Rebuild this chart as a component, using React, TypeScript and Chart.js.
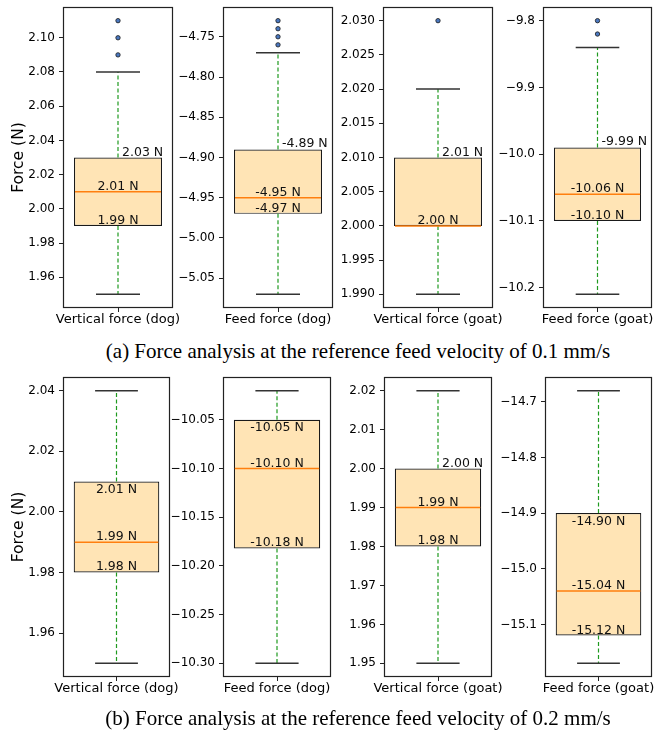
import React, { useEffect, useRef } from 'react';
import { Chart, registerables } from 'chart.js';

Chart.register(...registerables);

// ---------------- data ----------------
const categories = [
  'Vertical force (dog)',
  'Feed force (dog)',
  'Vertical force (goat)',
  'Feed force (goat)',
  'Vertical force (dog)',
  'Feed force (dog)',
  'Vertical force (goat)',
  'Feed force (goat)',
];
const lowerWhisker = [1.95, -5.07, 1.99, -10.21, 1.95, -10.3, 1.95, -15.17];
const q1Values = [1.99, -4.97, 2.0, -10.1, 1.98, -10.182, 1.98, -15.12];
const medianValues = [2.01, -4.95, 2.0, -10.06, 1.99, -10.1, 1.99, -15.04];
const q3Values = [2.03, -4.89, 2.01, -9.99, 2.01, -10.05, 2.0, -14.9];
const upperWhisker = [2.08, -4.77, 2.02, -9.84, 2.04, -10.02, 2.02, -14.68];
const outlierValues: number[][] = [
  [2.09, 2.1, 2.11],
  [-4.76, -4.75, -4.74, -4.73],
  [2.03],
  [-9.82, -9.8],
  [],
  [],
  [],
  [],
];
const tickValues: number[][] = [
  [1.96, 1.98, 2.0, 2.02, 2.04, 2.06, 2.08, 2.1],
  [-5.05, -5.0, -4.95, -4.9, -4.85, -4.8, -4.75],
  [1.99, 1.995, 2.0, 2.005, 2.01, 2.015, 2.02, 2.025, 2.03],
  [-10.2, -10.1, -10.0, -9.9, -9.8],
  [1.96, 1.98, 2.0, 2.02, 2.04],
  [-10.3, -10.25, -10.2, -10.15, -10.1, -10.05],
  [1.95, 1.96, 1.97, 1.98, 1.99, 2.0, 2.01, 2.02],
  [-15.1, -15.0, -14.9, -14.8, -14.7],
];
const tickDecimals = [2, 2, 3, 1, 2, 2, 2, 1];
const q3LabelInside = [false, false, false, false, true, true, false, true];
const yAxisTitle = 'Force (N)';
const captions = [
  '(a) Force analysis at the reference feed velocity of 0.1 mm/s',
  '(b) Force analysis at the reference feed velocity of 0.2 mm/s',
];

// ---------------- layout ----------------
const PANEL_X = [
  [63, 173],
  [223, 333],
  [383, 493],
  [543, 652],
  [63, 170],
  [223, 331],
  [384, 492],
  [545, 652],
];
const ROW_Y = [
  [7, 308],
  [377, 677],
];
const CAPTION_CY = [351, 718];
const CAPTION_CX = 358;
const YW = 62; // y-axis width
const PT = 12; // top pad
const PR = 24; // right pad
const XH = 30; // x-axis height

const FONT = "'DejaVu Sans', sans-serif";
Chart.defaults.font.family = FONT;
Chart.defaults.color = '#000';

const fmtTick = (v: number, d: number) => {
  const s = Math.abs(v).toFixed(d);
  return v < 0 ? '\u2212' + s : s;
};
const fmtLabel = (v: number) => v.toFixed(2) + ' N';

function Panel({ i }: { i: number }) {
  const ref = useRef<HTMLCanvasElement>(null);
  const [l, r] = PANEL_X[i];
  const [t, b] = ROW_Y[i < 4 ? 0 : 1];
  const w = r - l + YW + PR;
  const h = b - t + PT + XH;

  useEffect(() => {
    if (!ref.current) return;
    const outs = outlierValues[i];
    const lo = Math.min(lowerWhisker[i], ...outs);
    const hi = Math.max(upperWhisker[i], ...outs);
    const margin = (hi - lo) * 0.05;

    const extras = {
      id: 'boxExtras' + i,
      afterDatasetsDraw(chart: any) {
        const ctx = chart.ctx;
        const y = chart.scales.y;
        const bar = chart.getDatasetMeta(0).data[0] as any;
        const cx = bar.x;
        const half = bar.width / 2;
        const yq1 = y.getPixelForValue(q1Values[i]);
        const yq3 = y.getPixelForValue(q3Values[i]);
        const ymed = y.getPixelForValue(medianValues[i]);
        const ylo = y.getPixelForValue(lowerWhisker[i]);
        const yhi = y.getPixelForValue(upperWhisker[i]);
        ctx.save();
        // whiskers
        ctx.strokeStyle = '#1f9a1f';
        ctx.lineWidth = 1.2;
        ctx.setLineDash([4, 2.5]);
        ctx.beginPath();
        ctx.moveTo(cx, yq3);
        ctx.lineTo(cx, yhi);
        ctx.moveTo(cx, yq1);
        ctx.lineTo(cx, ylo);
        ctx.stroke();
        ctx.setLineDash([]);
        // caps
        ctx.strokeStyle = '#333';
        ctx.lineWidth = 1.5;
        ctx.beginPath();
        ctx.moveTo(cx - half / 2, yhi);
        ctx.lineTo(cx + half / 2, yhi);
        ctx.moveTo(cx - half / 2, ylo);
        ctx.lineTo(cx + half / 2, ylo);
        ctx.stroke();
        // median
        ctx.strokeStyle = '#ff7f0e';
        ctx.lineWidth = 1.5;
        ctx.beginPath();
        ctx.moveTo(cx - half + 1, ymed);
        ctx.lineTo(cx + half - 1, ymed);
        ctx.stroke();
        // labels
        ctx.fillStyle = '#111';
        ctx.font = '12.5px ' + FONT;
        if (q3LabelInside[i]) {
          ctx.textAlign = 'center';
          ctx.textBaseline = 'top';
          ctx.fillText(fmtLabel(q3Values[i]), cx, yq3 + 2);
        } else {
          ctx.textAlign = 'left';
          ctx.textBaseline = 'bottom';
          ctx.fillText(fmtLabel(q3Values[i]), cx + 4, yq3 + 1);
        }
        ctx.textAlign = 'center';
        ctx.textBaseline = 'bottom';
        ctx.fillText(fmtLabel(medianValues[i]), cx, ymed + 1);
        if (q1Values[i] !== medianValues[i]) {
          ctx.fillText(fmtLabel(q1Values[i]), cx, yq1 + 1);
        }
        ctx.restore();
      },
      afterDraw(chart: any) {
        const a = chart.chartArea;
        const ctx = chart.ctx;
        ctx.save();
        ctx.strokeStyle = '#222';
        ctx.lineWidth = 1.2;
        ctx.strokeRect(a.left + 0.5, a.top + 0.5, a.right - a.left - 1, a.bottom - a.top - 1);
        ctx.restore();
      },
    };

    const chart = new Chart(ref.current, {
      type: 'bar',
      data: {
        labels: [categories[i]],
        datasets: [
          {
            type: 'bar',
            data: [[q1Values[i], q3Values[i]]] as any,
            backgroundColor: '#FFE4B5',
            borderColor: '#1a1a1a',
            borderWidth: 1.2,
            borderSkipped: false,
            barPercentage: 0.8,
            categoryPercentage: 1,
          },
          {
            type: 'scatter',
            data: outs.map((v) => ({ x: categories[i], y: v })) as any,
            pointRadius: 2.2,
            pointBackgroundColor: '#4a78c0',
            pointBorderColor: '#1a1a1a',
            pointBorderWidth: 0.8,
            showLine: false,
          } as any,
        ],
      },
      options: {
        responsive: false,
        animation: false,
        events: [],
        layout: { padding: { left: 0, top: PT, right: PR, bottom: 0 } },
        plugins: { legend: { display: false }, tooltip: { enabled: false } },
        scales: {
          x: {
            type: 'category',
            offset: true,
            grid: {
              display: true,
              drawOnChartArea: false,
              drawTicks: true,
              tickLength: 4,
              offset: false,
              color: '#222',
            },
            border: { display: false },
            ticks: {
              font: { size: 13 },
              color: '#000',
              padding: 0,
              maxRotation: 0,
              minRotation: 0,
              autoSkip: false,
            },
            afterFit(scale: any) {
              scale.height = XH;
              scale.paddingLeft = 0;
              scale.paddingRight = 0;
            },
          },
          y: {
            type: 'linear',
            min: lo - margin,
            max: hi + margin,
            bounds: 'data',
            afterBuildTicks(scale: any) {
              scale.ticks = tickValues[i].map((v) => ({ value: v }));
            },
            afterFit(scale: any) {
              scale.width = YW;
              scale.paddingTop = 0;
              scale.paddingBottom = 0;
            },
            grid: {
              display: true,
              drawOnChartArea: false,
              drawTicks: true,
              tickLength: 4,
              color: '#222',
            },
            border: { display: false },
            ticks: {
              font: { size: 12 },
              color: '#000',
              padding: 4,
              autoSkip: false,
              callback: (v: any) => fmtTick(Number(v), tickDecimals[i]),
            },
            title: {
              display: i % 4 === 0,
              text: yAxisTitle,
              font: { size: 15.5 },
              color: '#000',
              padding: { top: 9, bottom: 0 },
            },
          },
        },
      },
      plugins: [extras as any],
    });
    return () => chart.destroy();
  }, [i]);

  return (
    <canvas
      ref={ref}
      width={w}
      height={h}
      style={{ position: 'absolute', left: l - YW, top: t - PT, width: w, height: h }}
    />
  );
}

export default function App() {
  return (
    <div
      style={{
        position: 'absolute',
        left: 0,
        top: 0,
        width: 654,
        height: 731,
        background: '#fff',
        overflow: 'hidden',
      }}
    >
      {categories.map((_, i) => (
        <Panel key={i} i={i} />
      ))}
      {captions.map((c, k) => (
        <div
          key={k}
          style={{
            position: 'absolute',
            left: CAPTION_CX - 327,
            width: 654,
            top: CAPTION_CY[k] - 12,
            height: 24,
            lineHeight: '24px',
            textAlign: 'center',
            fontFamily: "'Liberation Serif', 'Times New Roman', serif",
            fontSize: 21,
            color: '#000',
            whiteSpace: 'nowrap',
          }}
        >
          {c}
        </div>
      ))}
    </div>
  );
}
